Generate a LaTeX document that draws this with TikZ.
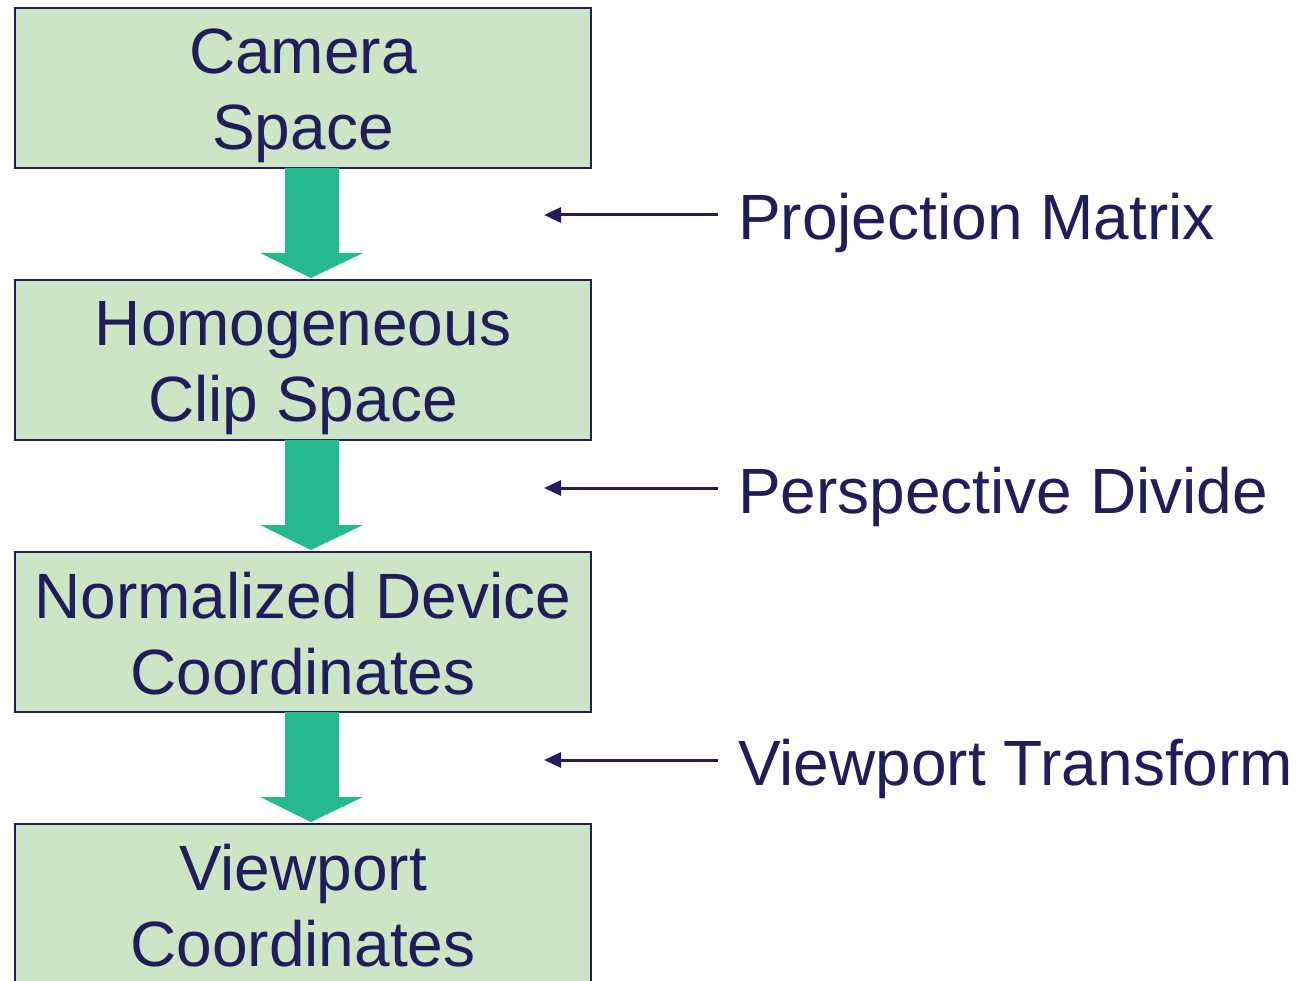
\documentclass[tikz,border=0pt]{standalone}
\usepackage{fontspec}
\setmainfont{Liberation Sans}
\usetikzlibrary{arrows.meta,calc}
\definecolor{navy}{RGB}{31,29,92}
\definecolor{boxgreen}{RGB}{204,229,196}
\definecolor{arrowgreen}{RGB}{38,185,143}
\begin{document}
\begin{tikzpicture}[x=1pt,y=-1pt,
  stagebox/.style={draw=navy,line width=2.5pt,fill=boxgreen,minimum width=576pt,minimum height=160pt,inner sep=0pt,outer sep=0pt,anchor=north west},
  lbl/.style={text=navy,font=\fontsize{64}{76}\selectfont,inner sep=0pt,anchor=base},
  rlbl/.style={text=navy,font=\fontsize{64}{76}\selectfont,inner sep=0pt,anchor=base west},
  blockarrow/.style={fill=arrowgreen,draw=none},
  thinarrow/.style={draw=navy,line width=3pt,-{Triangle[length=17pt,width=15pt]}}]
\useasboundingbox (0,0) rectangle (1299,981);
\begin{scope}
\clip (0,0) rectangle (1299,981);
\node[stagebox] (b1) at (15,8) {};
\node[stagebox] (b2) at (15,280) {};
\node[stagebox] (b3) at (15,552) {};
\node[stagebox] (b4) at (15,824) {};
\end{scope}
% block arrows
\foreach \s/\t in {b1/b2,b2/b3,b3/b4}{
  \fill[blockarrow] ($(\s.south)+(-18,0)$) -- ++(54,0) -- ++(0,85) -- ++(24,0)
     -- ($(\t.north)+(8,-2)$) -- ($(\s.south)+(-43,85)$) -- ++(25,0) -- cycle;
}
% box texts
\node[lbl] (t1a) at (303,74) {Camera};
\node[lbl] (t1b) at (303,150) {Space};
\node[lbl] (t2a) at (303,346) {Homogeneous};
\node[lbl] (t2b) at (303,422) {Clip Space};
\node[lbl] (t3a) at (303,618) {Normalized Device};
\node[lbl] (t3b) at (303,694) {Coordinates};
\node[lbl] (t4a) at (303,890) {Viewport};
\node[lbl] (t4b) at (303,966) {Coordinates};
% right labels
\node[rlbl] (r1) at (738,240) {Projection Matrix};
\node[rlbl] (r2) at (738,513) {Perspective Divide};
\node[rlbl] (r3) at (738,785) {Viewport Transform};
\coordinate (s1) at (718,215); \coordinate (e1) at (544,215);
\coordinate (s2) at (718,488); \coordinate (e2) at (544,488);
\coordinate (s3) at (718,760); \coordinate (e3) at (544,760);
\draw[thinarrow] (s1) -- (e1);
\draw[thinarrow] (s2) -- (e2);
\draw[thinarrow] (s3) -- (e3);
\end{tikzpicture}
\end{document}
